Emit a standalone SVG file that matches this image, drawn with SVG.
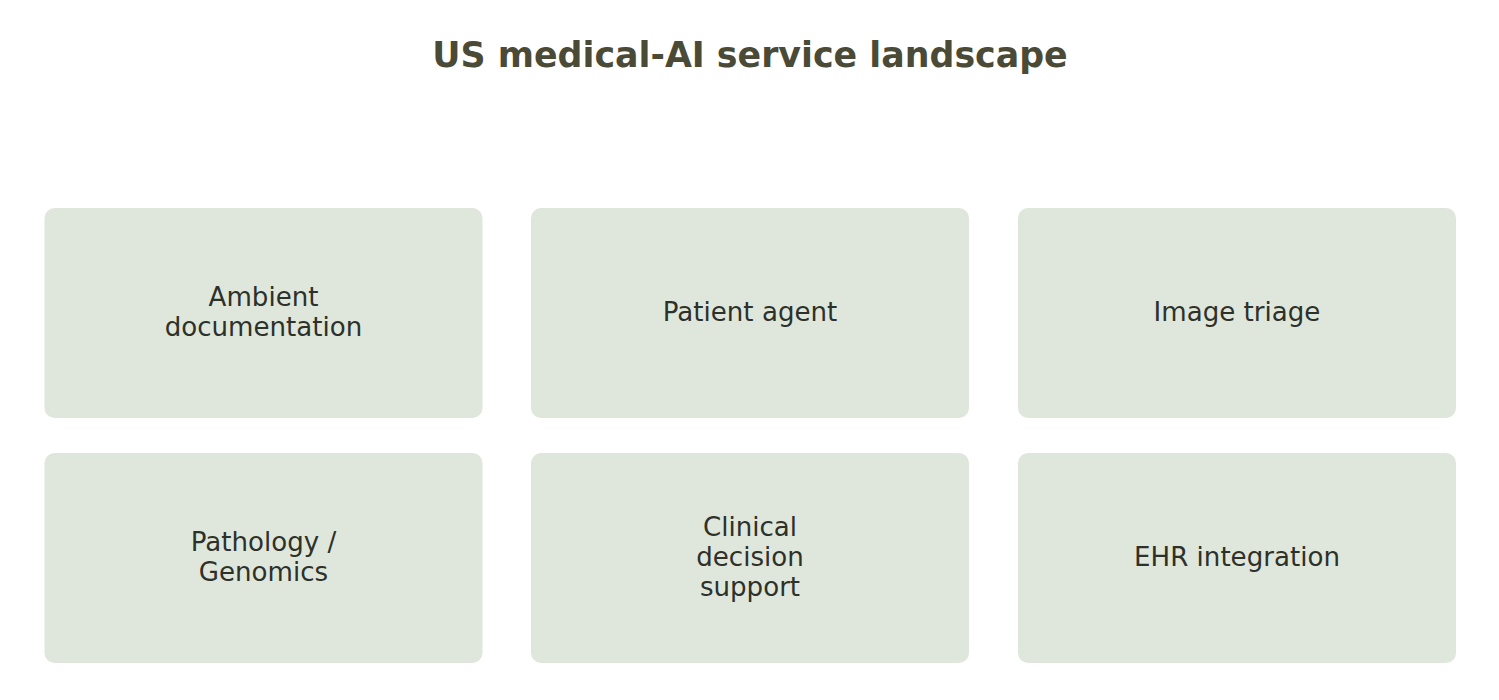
<svg xmlns="http://www.w3.org/2000/svg" width="1499" height="700" viewBox="0 0 1499 700">
<style>
.box{fill:#dfe7dc;}
.lbl{font-family:"DejaVu Sans",sans-serif;font-size:26.1px;fill:#2e3129;text-anchor:middle;}
.title{font-family:"DejaVu Sans",sans-serif;font-size:34.8px;font-weight:bold;fill:#4a4a36;text-anchor:middle;}
</style>
<rect width="1499" height="700" fill="#ffffff"/>
<text class="title" x="750" y="67">US medical-AI service landscape</text>
<g id="connectors"></g>
<g id="n1"><rect class="box" x="44.5" y="208" width="438" height="210" rx="10"/><text class="lbl" x="263.5" y="306">Ambient</text><text class="lbl" x="263.5" y="336">documentation</text></g>
<g id="n2"><rect class="box" x="531" y="208" width="438" height="210" rx="10"/><text class="lbl" x="750" y="321">Patient agent</text></g>
<g id="n3"><rect class="box" x="1018" y="208" width="438" height="210" rx="10"/><text class="lbl" x="1237" y="321">Image triage</text></g>
<g id="n4"><rect class="box" x="44.5" y="453" width="438" height="210" rx="10"/><text class="lbl" x="263.5" y="551">Pathology /</text><text class="lbl" x="263.5" y="581">Genomics</text></g>
<g id="n5"><rect class="box" x="531" y="453" width="438" height="210" rx="10"/><text class="lbl" x="750" y="536">Clinical</text><text class="lbl" x="750" y="566">decision</text><text class="lbl" x="750" y="596">support</text></g>
<g id="n6"><rect class="box" x="1018" y="453" width="438" height="210" rx="10"/><text class="lbl" x="1237" y="566">EHR integration</text></g>
</svg>
